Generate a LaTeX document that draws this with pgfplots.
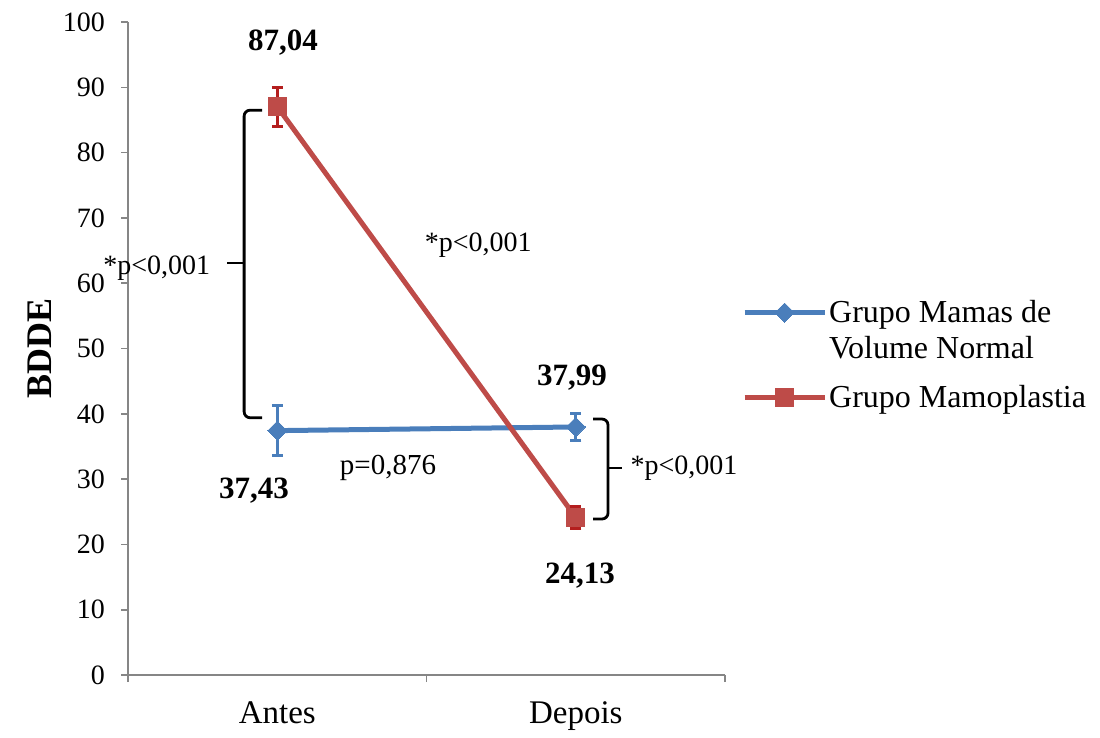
\documentclass[border=0pt]{standalone}
\usepackage{fontspec}
\setmainfont{Liberation Serif}
\usepackage{pgfplots}
\pgfplotsset{compat=1.18}
\definecolor{serBlue}{HTML}{4A7EBB}
\definecolor{serRed}{HTML}{BE4B48}
\definecolor{errRed}{HTML}{B41E1E}
\definecolor{axGray}{HTML}{868686}
\pgfplotsset{
  legline/.style={legend image code/.code={\draw[##1, mark repeat=2, mark phase=2] plot coordinates {(0pt,0pt) (20pt,0pt) (40pt,0pt)};}},
  leglineup/.style={legend image code/.code={\draw[##1, mark repeat=2, mark phase=2] plot coordinates {(0pt,9pt) (20pt,9pt) (40pt,9pt)};}},
}
\begin{document}
\begin{tikzpicture}
\begin{axis}[
  scale only axis, width=298.5pt, height=326.5pt,
  xmin=0, xmax=2, ymin=0, ymax=100,
  axis x line=bottom, axis y line=left,
  axis line style={axGray, line width=0.75pt, -},
  xtick={0,1,2}, x tick label as interval=true, xticklabels={Antes,Depois},
  ytick={0,10,...,100},
  tick align=outside, major tick length=3.5pt,
  tick style={axGray, line width=0.75pt},
  /pgf/number format/assume math mode=true,
  yticklabel style={font=\fontsize{14}{16}\selectfont, black, xshift=-4.5pt},
  xticklabel style={font=\fontsize{16.5}{19}\selectfont, black, yshift=-6.5pt},
  ylabel={BDDE},
  ylabel style={font=\fontsize{18}{21}\selectfont\bfseries, at={(axis description cs:-0.147,0.5)}, anchor=center},
  clip=false,
  legend style={draw=none, fill=none, at={(axis description cs:1.028,0.581)}, anchor=north west,
    font=\fontsize{16}{18}\selectfont, cells={align=left, anchor=west}, row sep=8pt, inner sep=0pt,
    nodes={inner xsep=1pt}},
  legline,
]
\addplot[serBlue, line width=2.5pt, mark=square*, mark size=3.4pt,
  mark options={rotate=45, fill=serBlue, draw=serBlue, line width=0pt},
  leglineup,
  error bars/.cd, y dir=both, y explicit,
  error bar style={serBlue, line width=1.5pt},
  error mark options={rotate=90, serBlue, mark size=2.75pt, line width=1.5pt}]
  coordinates {(0.5,37.43) +- (0,3.8) (1.5,37.99) +- (0,2.0)};
\addlegendentry{Grupo Mamas de\\Volume Normal}
\addplot[serRed, line width=2.5pt, mark=square*, mark size=4.5pt,
  mark options={fill=serRed, draw=serRed, line width=0pt},
  error bars/.cd, y dir=both, y explicit,
  error bar style={errRed, line width=1.5pt},
  error mark options={rotate=90, errRed, mark size=2.75pt, line width=1.5pt}]
  coordinates {(0.5,87.04) +- (0,3.0) (1.5,24.13) +- (0,1.75)};
\addlegendentry{Grupo Mamoplastia}

% data labels
\node[font=\fontsize{15.5}{18}\selectfont\bfseries] at (axis cs:0.519,96.9) {87,04};
\node[font=\fontsize{15.5}{18}\selectfont\bfseries] at (axis cs:0.422,28.3) {37,43};
\node[font=\fontsize{15.5}{18}\selectfont\bfseries] at (axis cs:1.487,45.5) {37,99};
\node[font=\fontsize{15.5}{18}\selectfont\bfseries] at (axis cs:1.514,15.3) {24,13};
% p-value texts
\node[font=\fontsize{14}{16}\selectfont] at (axis cs:1.173,65.9) {*p<0,001};
\node[font=\fontsize{14.5}{16}\selectfont] at (axis cs:0.871,31.7) {p=0,876};
\node[font=\fontsize{14}{16}\selectfont, anchor=west, inner sep=0pt] at (axis cs:-0.084,62.3) {*p<0,001};
\node[font=\fontsize{14}{16}\selectfont, anchor=west, inner sep=0pt] at (axis cs:1.682,31.7) {*p<0,001};
% brackets
\draw[black, line width=1.4pt, rounded corners=3pt]
  (axis cs:0.449,86.5) -- (axis cs:0.389,86.5) -- (axis cs:0.389,39.4) -- (axis cs:0.449,39.4);
\draw[black, line width=1.4pt] (axis cs:0.389,63.1) -- (axis cs:0.332,63.1);
\draw[black, line width=1.4pt, rounded corners=3pt]
  (axis cs:1.558,39.2) -- (axis cs:1.608,39.2) -- (axis cs:1.608,23.9) -- (axis cs:1.558,23.9);
\draw[black, line width=1.4pt] (axis cs:1.608,31.7) -- (axis cs:1.655,31.7);
% canvas extent
\coordinate (bbbl) at (axis cs:-0.4288,-8.58);
\coordinate (bbtr) at (axis cs:3.256,103.37);
\end{axis}
\path (bbbl) rectangle (bbtr);
\end{tikzpicture}
\end{document}
